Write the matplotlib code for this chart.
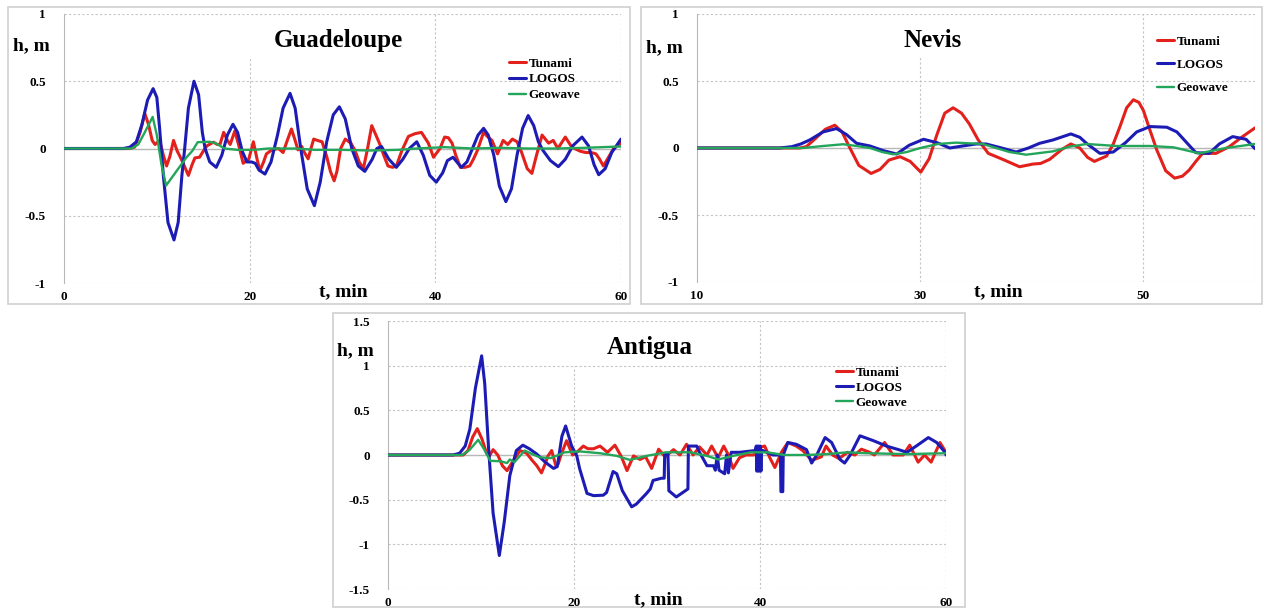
import matplotlib
matplotlib.use("Agg")
import matplotlib.pyplot as plt
from matplotlib.patches import Rectangle

# ---- data (t in min, h in m) ----
GUA_TUN_T = [0, 7.0, 7.6, 8.2, 8.7, 9.1, 9.5, 9.8, 10.3, 10.7, 11.05, 11.4, 11.8, 12.2, 12.5, 12.9, 13.4, 13.8,
             14.1, 14.6, 15.0, 15.4, 16.1, 16.5, 16.8, 17.2, 17.6, 17.9, 18.4, 18.8, 19.3, 19.9, 20.4, 20.8, 21.1,
             21.5, 21.8, 22.4, 23.1, 23.6, 24.0, 24.5, 24.9, 25.2, 25.6, 25.9, 26.3, 26.6, 26.9, 27.3, 27.8, 28.3,
             28.7, 29.1, 29.4, 29.8, 30.3, 30.9, 31.35, 31.8, 32.25, 32.7, 33.15, 33.6, 34.0, 34.5, 34.9, 35.4,
             35.8, 36.4, 37.1, 37.8, 38.5, 39.25, 39.8, 40.5, 41.0, 41.4, 41.8, 42.2, 42.7, 43.2, 43.7, 44.1, 44.5,
             45.2, 45.6, 46.1, 46.7, 47.3, 47.8, 48.3, 48.8, 49.3, 49.9, 50.4, 50.9, 51.5, 52.2, 52.7, 53.2, 54.0,
             54.7, 55.6, 56.2, 56.8, 57.3, 57.7, 58.1, 58.7, 59.2, 60]
GUA_TUN_H = [0, 0, 0.01, 0.12, 0.26, 0.18, 0.06, 0.03, 0.06, -0.05, -0.13, -0.06, 0.06, -0.02, -0.06, -0.12, -0.2,
             -0.12, -0.07, -0.065, -0.02, 0.02, 0.047, 0.03, 0.03, 0.12, 0.06, 0.03, 0.13, 0.03, -0.11, -0.08, 0.05,
             -0.08, -0.165, -0.1, -0.04, -0.01, 0.0, -0.03, 0.05, 0.145, 0.06, -0.01, 0.015, -0.03, -0.077, 0.0,
             0.07, 0.06, 0.05, -0.06, -0.17, -0.24, -0.17, 0.0, 0.07, 0.04, -0.015, -0.1, -0.15, 0.0, 0.17, 0.1,
             0.035, -0.06, -0.13, -0.14, -0.13, -0.015, 0.09, 0.11, 0.12, 0.04, -0.065, 0.0, 0.085, 0.08, 0.04,
             -0.05, -0.14, -0.14, -0.13, -0.08, -0.02, 0.12, 0.09, 0.06, -0.04, 0.06, 0.03, 0.07, 0.05, -0.03,
             -0.15, -0.185, -0.05, 0.1, 0.04, 0.06, 0.0, 0.085, 0.01, -0.02, -0.03, -0.03, -0.04, -0.08, -0.13,
             -0.06, 0.0, 0.04]
GUA_LOG_T = [0, 6.4, 7.1, 7.8, 8.4, 9.0, 9.6, 10.0, 10.3, 10.7, 11.2, 11.85, 12.3, 12.7, 13.0, 13.4, 14.0, 14.5,
             14.9, 15.2, 15.7, 16.4, 17.0, 17.6, 18.2, 18.7, 19.2, 19.7, 20.2, 20.6, 21.0, 21.65, 22.3, 23.0, 23.6,
             24.35, 24.9, 25.5, 26.2, 26.97, 27.6, 28.3, 29.0, 29.66, 30.3, 31.0, 31.7, 32.4, 33.2, 33.7, 34.2,
             35.0, 35.8, 36.5, 37.2, 38.0, 38.7, 39.4, 40.1, 40.8, 41.3, 41.9, 42.8, 43.4, 44.0, 44.6, 45.2, 45.7,
             46.3, 46.9, 47.6, 48.2, 48.8, 49.4, 50.0, 50.6, 51.1, 51.6, 52.4, 53.25, 54.0, 54.8, 55.8, 56.5, 57.1,
             57.6, 58.3, 59.0, 60]
GUA_LOG_H = [0, 0, 0.01, 0.05, 0.18, 0.36, 0.445, 0.38, 0.15, -0.2, -0.55, -0.68, -0.55, -0.2, 0.0, 0.3, 0.5, 0.4,
             0.12, 0.0, -0.1, -0.14, -0.05, 0.1, 0.18, 0.12, -0.02, -0.1, -0.1, -0.11, -0.16, -0.19, -0.1, 0.1, 0.3,
             0.41, 0.3, 0.0, -0.3, -0.425, -0.25, 0.05, 0.25, 0.31, 0.22, 0.0, -0.13, -0.17, -0.08, 0.0, 0.015,
             -0.08, -0.14, -0.08, 0.0, 0.05, -0.05, -0.2, -0.25, -0.18, -0.09, -0.065, -0.14, -0.1, 0.0, 0.1, 0.15,
             0.1, -0.05, -0.28, -0.395, -0.3, -0.05, 0.15, 0.245, 0.17, 0.05, -0.015, -0.09, -0.135, -0.08, 0.02,
             0.085, 0.02, -0.12, -0.195, -0.15, -0.03, 0.07]
GUA_GEO_T = [0, 7.3, 8.0, 8.7, 9.55, 10.0, 10.5, 11.0, 12.1, 13.2, 13.8, 14.4, 15.7, 16.3, 17.3, 18.7, 20.5, 22,
             25, 27, 30, 33, 36, 38, 41, 44, 47, 50, 53, 56, 58, 60]
GUA_GEO_H = [0, 0, 0.03, 0.12, 0.235, 0.1, -0.12, -0.275, -0.17, -0.065, -0.02, 0.047, 0.05, 0.04, 0.0, -0.01,
             -0.01, 0.0, 0.0, -0.01, -0.01, -0.015, -0.01, 0.0, 0.01, 0.0, 0.005, 0.0, 0.0, 0.005, 0.01, 0.015]

NEV_TUN_T = [10, 19.2, 19.8, 20.6, 21.5, 22.35, 23.0, 23.7, 24.5, 25.6, 26.4, 27.2, 28.2, 29.1, 30.05, 30.8, 31.5,
             32.2, 32.95, 33.7, 34.4, 35.2, 36.1, 37.4, 38.9, 40.1, 40.8, 41.6, 42.7, 43.5, 44.3, 45.0, 45.6, 46.7,
             47.3, 47.9, 48.5, 49.1, 49.6, 50.0, 50.6, 51.2, 52.0, 52.8, 53.5, 54.1, 54.7, 55.3, 56.5, 57.7, 58.8, 60]
NEV_TUN_H = [0, 0, 0.01, 0.07, 0.14, 0.17, 0.12, 0.0, -0.13, -0.19, -0.16, -0.09, -0.065, -0.1, -0.18, -0.08, 0.1,
             0.26, 0.30, 0.26, 0.18, 0.06, -0.04, -0.085, -0.14, -0.12, -0.115, -0.085, -0.01, 0.03, 0.0, -0.07,
             -0.1, -0.06, 0.03, 0.16, 0.3, 0.36, 0.34, 0.28, 0.13, -0.015, -0.17, -0.225, -0.21, -0.165, -0.1,
             -0.04, -0.04, 0.01, 0.08, 0.15]
NEV_LOG_T = [10, 17.4, 18.5, 19.3, 20.1, 21.3, 22.5, 23.4, 24.3, 25.5, 26.7, 27.9, 29.0, 30.3, 31.5, 32.65, 33.8,
             35.0, 35.9, 37.3, 38.6, 39.7, 40.7, 41.9, 43.5, 44.3, 44.9, 46.1, 47.3, 48.4, 49.4, 50.6, 52.1, 53.0,
             53.55, 54.7, 55.9, 56.8, 58.0, 59.2, 60]
NEV_LOG_H = [0, 0, 0.01, 0.03, 0.06, 0.12, 0.145, 0.1, 0.035, 0.015, -0.02, -0.045, 0.02, 0.065, 0.04, 0.0, 0.015,
             0.03, 0.03, 0.0, -0.03, 0.0, 0.035, 0.06, 0.105, 0.08, 0.035, -0.04, -0.03, 0.04, 0.12, 0.16, 0.155,
             0.12, 0.07, -0.035, -0.04, 0.03, 0.085, 0.065, -0.005]
NEV_GEO_T = [10, 19.5, 21.3, 23.1, 24.3, 25.5, 26.6, 27.6, 28.8, 30.0, 31.6, 33.2, 35.6, 38.0, 39.5, 41.9, 43.4,
             44.9, 47.6, 50.6, 52.7, 55.0, 57.4, 60]
NEV_GEO_H = [0, 0, 0.015, 0.028, 0.015, 0.0, -0.03, -0.047, -0.03, 0.0, 0.03, 0.04, 0.03, -0.03, -0.05, -0.025,
             0.01, 0.03, 0.015, 0.015, 0.005, -0.04, 0.0, 0.03]

ANT_TUN_T = [0, 8.1, 8.6, 9.1, 9.6, 10.1, 10.6, 10.9, 11.3, 11.8, 12.3, 12.8, 13.5, 14.2, 14.9, 15.5, 16.0, 16.5,
             16.9, 17.2, 17.6, 18.05, 18.3, 18.6, 19.2, 19.85, 20.3, 21.0, 21.5, 22.1, 22.8, 23.6, 24.4, 25.1, 25.7,
             26.4, 27.1, 27.7, 28.35, 29.1, 29.8, 30.7, 31.4, 32.1, 32.8, 33.5, 34.3, 34.8, 35.5, 36.1, 36.6, 37.1,
             37.8, 38.5, 39.3, 40.0, 40.5, 41.1, 41.6, 42.3, 43.0, 43.9, 44.6, 45.55, 46.6, 47.1, 47.8, 48.5, 49.4,
             50.2, 50.9, 51.8, 52.3, 53.4, 54.3, 55.4, 56.1, 57.0, 57.7, 58.4, 59.35, 60]
ANT_TUN_H = [0, 0, 0.05, 0.2, 0.295, 0.18, 0.02, -0.01, 0.06, 0.0, -0.12, -0.175, -0.06, 0.05, 0.02, -0.06, -0.12,
             -0.2, -0.1, -0.01, 0.05, -0.12, -0.1, 0.0, 0.16, 0.0, 0.03, 0.1, 0.07, 0.07, 0.1, 0.03, 0.11, -0.02,
             -0.175, -0.01, -0.05, -0.02, -0.15, 0.065, -0.02, 0.06, 0.0, 0.12, 0.0, 0.09, 0.0, 0.1, -0.03, 0.1, 0.0,
             -0.15, -0.03, 0.0, 0.0, 0.085, 0.1, -0.04, -0.14, 0.03, 0.14, 0.1, 0.05, -0.06, -0.02, 0.1, 0.0, -0.04,
             0.03, 0.0, 0.065, 0.03, 0.0, 0.14, 0.0, 0.0, 0.11, -0.08, 0.0, -0.08, 0.14, 0.03]
ANT_LOG_T = [0, 7.0, 7.7, 8.3, 8.8, 9.4, 10.07, 10.4, 10.8, 11.3, 11.97, 12.5, 13.1, 13.8, 14.5, 15.2, 16.0, 16.9,
             17.8, 18.2, 18.7, 19.1, 19.75, 20.3, 20.6, 21.4, 22.1, 23.15, 23.5, 24.2, 24.6, 25.2, 26.2, 26.7, 27.8,
             28.2, 28.5, 29.4, 29.7, 29.75, 30.1, 30.2, 31.0, 32.25, 32.3, 33.2, 33.5, 34.3, 35.0, 35.2, 35.4, 35.6,
             36.2, 36.4, 36.6, 36.9, 37.8, 39.5, 39.6, 39.65, 39.75, 39.8, 39.9, 39.95, 40.05, 40.1, 40.15, 40.3,
             41.4, 42.2, 42.25, 42.45, 42.5, 43.0, 43.9, 45.0, 45.55, 46.1, 47.0, 47.7, 48.6, 49.1, 49.7, 50.75,
             52.2, 53.6, 54.9, 55.8, 56.8, 58.1, 59.0, 59.9, 60]
ANT_LOG_H = [0, 0, 0.02, 0.1, 0.29, 0.75, 1.11, 0.8, 0.1, -0.65, -1.125, -0.75, -0.23, 0.05, 0.11, 0.07, 0.01,
             -0.08, -0.15, -0.13, 0.21, 0.325, 0.1, -0.01, -0.15, -0.43, -0.455, -0.45, -0.42, -0.185, -0.21, -0.4,
             -0.58, -0.55, -0.43, -0.38, -0.285, -0.26, -0.26, 0.0, 0.02, -0.4, -0.47, -0.38, 0.1, 0.1, 0.03, -0.12,
             -0.12, -0.17, 0.0, -0.17, -0.21, 0.0, -0.2, 0.03, 0.03, 0.05, 0.1, -0.18, 0.1, -0.18, 0.1, -0.18, 0.1,
             -0.18, 0.05, 0.05, 0.0, 0.0, -0.41, -0.41, 0.0, 0.14, 0.12, 0.06, -0.09, 0.0, 0.195, 0.14, -0.05, -0.09,
             0.0, 0.215, 0.16, 0.1, 0.06, 0.03, 0.1, 0.195, 0.14, 0.03, 0.0]
ANT_GEO_T = [0, 8.0, 8.8, 9.7, 10.3, 11.0, 12.1, 12.8, 13.1, 13.6, 14.7, 15.5, 16.3, 17.5, 19.0, 20.6, 22.8, 24.6,
             26.0, 27.8, 29.9, 30.7, 32.5, 34.3, 35.5, 37.1, 39.0, 40.8, 42.6, 45.0, 47.1, 49.4, 51.5, 53.6, 55.8,
             57.9, 60]
ANT_GEO_H = [0, 0, 0.06, 0.17, 0.07, -0.065, -0.07, -0.09, -0.05, -0.08, 0.05, 0.01, -0.025, -0.035, 0.03, 0.04,
             0.02, -0.01, -0.055, -0.01, 0.03, 0.03, 0.03, -0.01, -0.05, -0.01, 0.03, 0.03, 0.0, 0.0, 0.01, 0.03,
             0.02, 0.015, 0.01, 0.015, 0.02]

LABELS = ["Tunami", "LOGOS", "Geowave"]
COLORS = ["#e3211c", "#1c1cb4", "#23a55a"]
WIDTHS = [2.2, 2.2, 1.7]

plt.rcParams["font.family"] = ["Liberation Serif", "DejaVu Serif"]
plt.rcParams["font.weight"] = "bold"

fig = plt.figure(figsize=(12.68, 6.12), dpi=100)
W, H = 1268, 612


def px_axes(l, t, r, b):
    return fig.add_axes([l / W, 1 - b / H, (r - l) / W, (b - t) / H])


def frame(l, t, r, b):
    fig.patches.append(Rectangle((l / W, 1 - b / H), (r - l) / W, (b - t) / H, transform=fig.transFigure,
                                 fill=False, edgecolor="#cfcfcf", lw=1.2))


def panel(ax, series, xlim, xticks, ylim, yticks, ytl, vgrid_short, short_top, title, title_x,
          leg_anchor, leg_spacing):
    for (t, h), lab, c, lw in zip(series, LABELS, COLORS, WIDTHS):
        ax.plot(t, h, color=c, lw=lw, label=lab, zorder=3,
                solid_joinstyle="round", solid_capstyle="round")
    ax.set_xlim(*xlim)
    ax.set_ylim(*ylim)
    ax.set_xticks(xticks)
    ax.set_xticklabels([str(x) for x in xticks], fontsize=9.5, fontweight="bold")
    ax.set_yticks(yticks)
    ax.set_yticklabels(ytl, fontsize=9.5, fontweight="bold")
    ax.tick_params(length=0)
    ax.tick_params(axis="x", pad=6)
    ax.tick_params(axis="y", pad=13)
    for y in yticks:
        ax.axhline(y, color="#c4c4c4", lw=0.8, ls=(0, (2, 2)), zorder=1)
    ax.axhline(0, color="#b8b8b8", lw=1.0, zorder=1)
    for x in xticks[1:]:
        top = short_top if x == vgrid_short else 1.0
        ax.axvline(x, ymin=0, ymax=top, color="#c4c4c4", lw=0.8, ls=(0, (2, 2)), zorder=1)
    ax.axvline(xlim[1], color="#c4c4c4", lw=0.8, ls=(0, (2, 2)), zorder=1)
    for s in ("top", "right", "bottom"):
        ax.spines[s].set_visible(False)
    ax.spines["left"].set_color("#b8b8b8")
    ax.text(title_x, 0.9, title, transform=ax.transAxes, ha="center", va="center",
            fontsize=18, fontweight="bold")
    ax.legend(loc="upper left", bbox_to_anchor=leg_anchor, frameon=False,
              handlelength=1.3, handletextpad=0.15, labelspacing=leg_spacing, borderaxespad=0,
              prop={"weight": "bold", "size": 9.5})


# Guadeloupe
frame(8, 7, 630, 304)
ax1 = px_axes(64, 14, 621, 283)
panel(ax1, [(GUA_TUN_T, GUA_TUN_H), (GUA_LOG_T, GUA_LOG_H), (GUA_GEO_T, GUA_GEO_H)],
      (0, 60), [0, 20, 40, 60], (-1, 1), [-1, -0.5, 0, 0.5, 1], ["-1", "-0.5", "0", "0.5", "1"],
      20, 0.84, "Guadeloupe", (338 - 64) / 557, ((504 - 64) / 557, (283 - 52) / 269), 0.28)
fig.text(13 / W, 1 - 46 / H, "h, m", fontsize=14, fontweight="bold", va="center", ha="left")
fig.text(343 / W, 1 - 292 / H, "t, min", fontsize=14, fontweight="bold", va="center", ha="center")

# Nevis
frame(641, 7, 1262, 304)
ax2 = px_axes(697, 14, 1255, 282)
panel(ax2, [(NEV_TUN_T, NEV_TUN_H), (NEV_LOG_T, NEV_LOG_H), (NEV_GEO_T, NEV_GEO_H)],
      (10, 60), [10, 30, 50], (-1, 1), [-1, -0.5, 0, 0.5, 1], ["-1", "-0.5", "0", "0.5", "1"],
      30, 0.84, "Nevis", (933 - 697) / 558, ((1152 - 697) / 558, (282 - 30) / 268), 0.85)
fig.text(646 / W, 1 - 48 / H, "h, m", fontsize=14, fontweight="bold", va="center", ha="left")
fig.text(998 / W, 1 - 292 / H, "t, min", fontsize=14, fontweight="bold", va="center", ha="center")

# Antigua
frame(333, 313, 965, 607)
ax3 = px_axes(388, 321, 946, 589)
panel(ax3, [(ANT_TUN_T, ANT_TUN_H), (ANT_LOG_T, ANT_LOG_H), (ANT_GEO_T, ANT_GEO_H)],
      (0, 60), [0, 20, 40, 60], (-1.5, 1.5), [-1.5, -1, -0.5, 0, 0.5, 1, 1.5],
      ["-1.5", "-1", "-0.5", "0", "0.5", "1", "1.5"],
      20, 0.832, "Antigua", (650 - 388) / 558, ((831 - 388) / 558, (589 - 361) / 268), 0.22)
fig.text(337 / W, 1 - 351 / H, "h, m", fontsize=14, fontweight="bold", va="center", ha="left")
fig.text(658 / W, 1 - 600 / H, "t, min", fontsize=14, fontweight="bold", va="center", ha="center")

fig.savefig("out.png", dpi=100)
